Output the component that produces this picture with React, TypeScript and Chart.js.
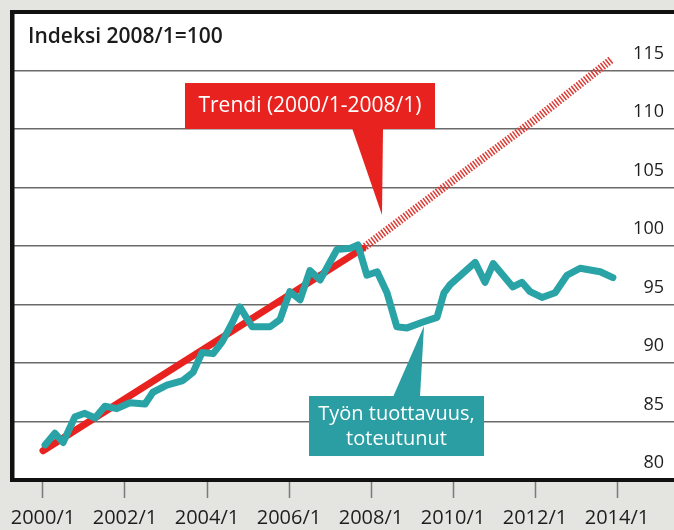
import React, { useEffect, useRef } from 'react';
import { Chart, registerables } from 'chart.js';

Chart.register(...registerables);

// ---- Data ----
const productivityYears = [
  2000.05, 2000.29, 2000.49, 2000.78, 2001.02, 2001.27, 2001.51, 2001.8, 2002.12, 2002.49,
  2002.68, 2003.02, 2003.41, 2003.66, 2003.88, 2004.15, 2004.37, 2004.61, 2004.8, 2005.1,
  2005.54, 2005.78, 2006.02, 2006.27, 2006.51, 2006.76, 2007.17, 2007.49, 2007.68, 2007.9,
  2008.15, 2008.39, 2008.63, 2008.88, 2009.27, 2009.61, 2009.78, 2009.93, 2010.54, 2010.78,
  2010.98, 2011.46, 2011.68, 2011.88, 2012.17, 2012.49, 2012.78, 2013.1, 2013.59, 2013.9,
];
const productivityValues = [
  83.0, 84.0, 83.2, 85.4, 85.7, 85.3, 86.3, 86.1, 86.6, 86.5,
  87.5, 88.1, 88.5, 89.2, 90.9, 90.8, 91.8, 93.4, 94.8, 93.1,
  93.1, 93.7, 96.1, 95.4, 97.9, 97.1, 99.7, 99.8, 100.1, 97.5,
  97.8, 96.0, 93.1, 93.0, 93.5, 93.9, 96.0, 96.7, 98.6, 96.9,
  98.5, 96.5, 96.9, 96.1, 95.6, 96.0, 97.5, 98.1, 97.8, 97.3,
];
const trendYears = [2000.0, 2007.8];
const trendValues = [82.5, 99.8];
const trendExtYears = [2007.8, 2010.0, 2012.0, 2013.85];
const trendExtValues = [99.8, 105.6, 110.8, 115.9];

const xTickYears = [2000, 2002, 2004, 2006, 2008, 2010, 2012, 2014];
const xTickLabels = ['2000/1', '2002/1', '2004/1', '2006/1', '2008/1', '2010/1', '2012/1', '2014/1'];
const yTickValues = [80, 85, 90, 95, 100, 105, 110, 115, 120];
const yTickLabels = ['80', '85', '90', '95', '100', '105', '110', '115', ''];

const titleText = 'Indeksi 2008/1=100';
const trendLabel = 'Trendi (2000/1-2008/1)';
const productivityLabel = ['Työn tuottavuus,', 'toteutunut'];

const FONT = '"Open Sans", "Noto Sans", sans-serif';
const TEAL = '#2aa3a7';
const RED = '#e8231f';

const decorPlugin = {
  id: 'decor',
  beforeDraw(chart: any) {
    const { ctx, chartArea: ca, width, height } = chart;
    ctx.save();
    ctx.fillStyle = '#e4e4e1';
    ctx.fillRect(0, 0, width, height);
    ctx.fillStyle = '#ffffff';
    ctx.fillRect(ca.left, ca.top, ca.right - ca.left, ca.bottom - ca.top);
    ctx.restore();
  },
  afterDatasetsDraw(chart: any) {
    const { ctx, chartArea: ca } = chart;
    const xs = chart.scales.x;
    const ys = chart.scales.y;
    const px = (v: number) => xs.getPixelForValue(v);
    const py = (v: number) => ys.getPixelForValue(v);
    ctx.save();

    // left frame
    ctx.fillStyle = '#111';
    ctx.fillRect(ca.left - 2, ca.top - 2, 4.5, ca.bottom - ca.top + 4);

    // title
    ctx.fillStyle = '#1b1b1b';
    ctx.font = `600 21px ${FONT}`;
    ctx.textAlign = 'left';
    ctx.textBaseline = 'alphabetic';
    ctx.fillText(titleText, ca.left + 16, ca.top + 31);

    // red callout
    const rl = px(2003.463), rr = px(2009.561), rt = py(113.93), rb = py(110.0);
    ctx.fillStyle = RED;
    ctx.fillRect(rl, rt, rr - rl, rb - rt);
    ctx.beginPath();
    ctx.moveTo(px(2007.537), rb - 1);
    ctx.lineTo(px(2008.293), rb - 1);
    ctx.lineTo(px(2008.268), py(102.65));
    ctx.closePath();
    ctx.fill();
    ctx.fillStyle = '#ffffff';
    ctx.font = `500 21px ${FONT}`;
    ctx.textAlign = 'center';
    ctx.textBaseline = 'middle';
    ctx.fillText(trendLabel, (rl + rr) / 2, (rt + rb) / 2);

    // teal callout
    const tl = px(2006.488), tr = px(2010.756), tt = py(87.18), tb = py(82.05);
    ctx.fillStyle = '#2a9ea2';
    ctx.fillRect(tl, tt, tr - tl, tb - tt);
    ctx.beginPath();
    ctx.moveTo(px(2008.537), tt + 1);
    ctx.lineTo(px(2009.195), tt + 1);
    ctx.lineTo(px(2009.293), py(93.16));
    ctx.closePath();
    ctx.fill();
    ctx.fillStyle = '#ffffff';
    ctx.font = `500 20px ${FONT}`;
    const cx = (tl + tr) / 2;
    const cy = (tt + tb) / 2;
    ctx.fillText(productivityLabel[0], cx, cy - 12);
    ctx.fillText(productivityLabel[1], cx, cy + 13);

    ctx.restore();
  },
};

export default function App() {
  const canvasRef = useRef<HTMLCanvasElement | null>(null);

  useEffect(() => {
    if (!canvasRef.current) return;
    const chart = new Chart(canvasRef.current, {
      type: 'line',
      data: {
        datasets: [
          {
            label: 'Työn tuottavuus',
            data: productivityYears.map((x, i) => ({ x, y: productivityValues[i] })),
            borderColor: TEAL,
            borderWidth: 7,
            borderJoinStyle: 'round',
            borderCapStyle: 'round',
            pointRadius: 0,
            tension: 0,
          },
          {
            label: 'Trendi',
            data: trendYears.map((x, i) => ({ x, y: trendValues[i] })),
            borderColor: RED,
            borderWidth: 7,
            borderCapStyle: 'round',
            pointRadius: 0,
            tension: 0,
          },
          {
            label: 'Trendi jatko',
            data: trendExtYears.map((x, i) => ({ x, y: trendExtValues[i] })),
            borderColor: '#dc3b34',
            borderWidth: 8,
            borderDash: [1.5, 1.6],
            borderCapStyle: 'butt',
            pointRadius: 0,
            tension: 0,
          },
        ],
      },
      options: {
        animation: false,
        responsive: false,
        devicePixelRatio: 1,
        layout: { padding: { left: 12, top: 12, right: 0, bottom: 0 } },
        plugins: {
          legend: { display: false },
          tooltip: { enabled: false },
          title: { display: false },
        },
        scales: {
          x: {
            type: 'linear',
            min: 1999.244,
            max: 2015.39,
            afterBuildTicks: (scale: any) => {
              scale.ticks = xTickYears.map((v) => ({ value: v }));
            },
            afterFit: (scale: any) => {
              scale.height = 50;
              scale.paddingLeft = 0;
              scale.paddingRight = 0;
              scale.paddingTop = 0;
              scale.paddingBottom = 0;
            },
            grid: {
              drawOnChartArea: false,
              drawTicks: true,
              tickLength: 18,
              tickColor: '#7a7a7a',
              tickWidth: 1.5,
            },
            border: { display: false },
            ticks: {
              autoSkip: false,
              maxRotation: 0,
              padding: 8,
              color: '#1e1e1e',
              font: { family: FONT, size: 20 },
              callback: (v: any) => xTickLabels[xTickYears.indexOf(Number(v))] ?? '',
            },
          },
          y: {
            type: 'linear',
            position: 'right',
            min: 80,
            max: 120,
            afterBuildTicks: (scale: any) => {
              scale.ticks = yTickValues.map((v) => ({ value: v }));
            },
            afterFit: (scale: any) => {
              scale.width = 0;
              scale.paddingLeft = 0;
              scale.paddingRight = 0;
              scale.paddingTop = 0;
              scale.paddingBottom = 0;
            },
            grid: {
              drawTicks: false,
              color: (c: any) => (c.tick && (c.tick.value === 80 || c.tick.value === 120) ? '#111' : '#6a6a6a'),
              lineWidth: (c: any) => (c.tick && (c.tick.value === 80 || c.tick.value === 120) ? 4 : 1.5),
            },
            border: { display: false },
            ticks: {
              mirror: true,
              padding: -10,
              labelOffset: -17,
              color: '#1e1e1e',
              font: { family: FONT, size: 18 },
              callback: (v: any) => yTickLabels[yTickValues.indexOf(Number(v))] ?? '',
            },
          },
        },
      },
      plugins: [decorPlugin],
    } as any);
    return () => chart.destroy();
  }, []);

  return (
    <div style={{ position: 'absolute', left: 0, top: 0, width: 674, height: 530 }}>
      <canvas ref={canvasRef} width={674} height={530} />
    </div>
  );
}
